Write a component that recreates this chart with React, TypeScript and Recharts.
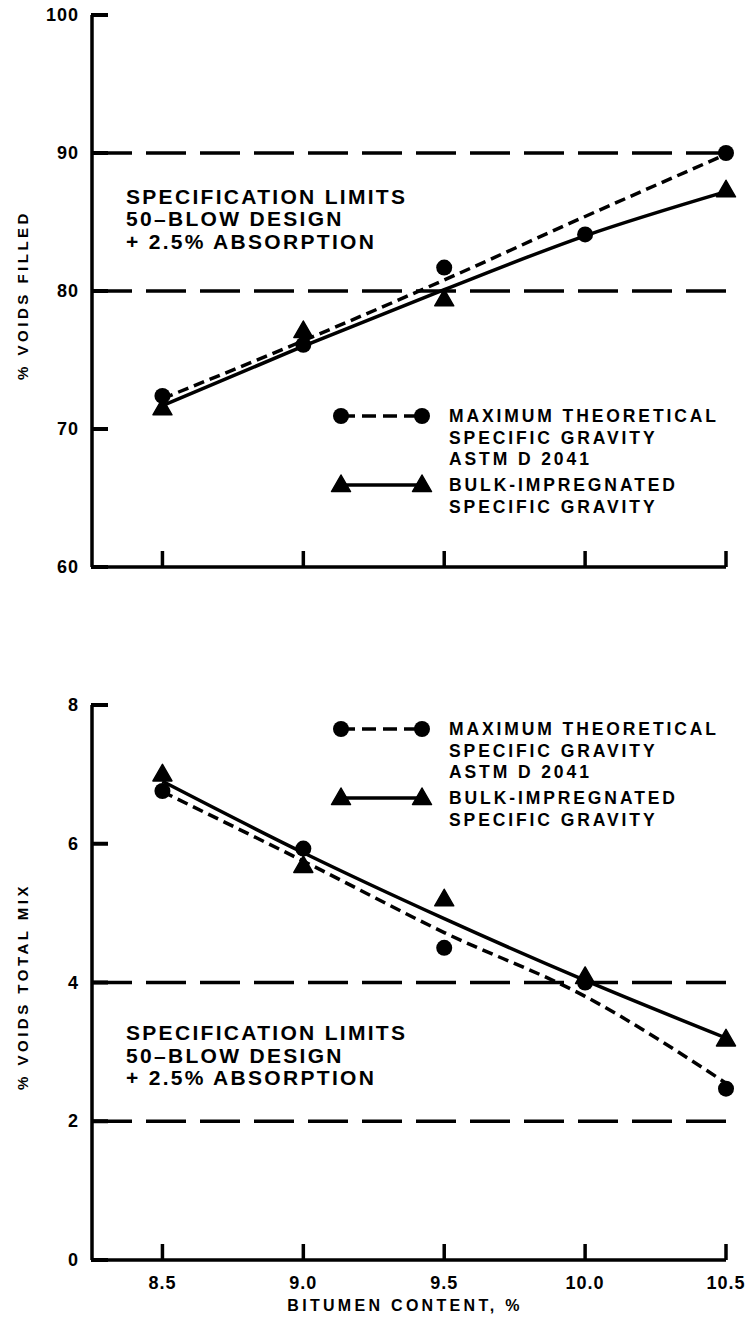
import React from "react";
import {
  ComposedChart,
  Line,
  Scatter,
  XAxis,
  YAxis,
  ReferenceLine,
  Label,
  Legend,
} from "recharts";

// bitumen content, %
const bitumen = [8.5, 9.0, 9.5, 10.0, 10.5];
const xTicks = [8.5, 9.0, 9.5, 10.0, 10.5];

// % voids filled (measured points + drawn trend)
const filledTheoretical = [72.4, 76.1, 81.7, 84.1, 90.0];
const filledBulk = [71.5, 77.1, 79.4, null, 87.3];
const filledTheoreticalFit = [72.2, 76.4, 80.8, 85.4, 89.9];
const filledBulkFit = [71.7, 76.0, 80.1, 84.0, 87.2];
const filledTicks = [60, 70, 80, 90, 100];
const filledLimits = [80, 90];

// % voids total mix
const mixTheoretical = [6.76, 5.93, 4.5, 4.0, 2.47];
const mixBulk = [7.0, 5.68, 5.2, 4.08, 3.18];
const mixTheoreticalFit = [6.75, 5.75, 4.72, 3.8, 2.55];
const mixBulkFit = [6.9, 5.87, 4.92, 4.03, 3.2];
const mixTicks = [0, 2, 4, 6, 8];
const mixLimits = [2, 4];

const theoreticalName = ["MAXIMUM THEORETICAL", "SPECIFIC GRAVITY", "ASTM D 2041"];
const bulkName = ["BULK-IMPREGNATED", "SPECIFIC GRAVITY"];
const specNote = ["SPECIFICATION LIMITS", "50\u2013BLOW DESIGN", "+ 2.5% ABSORPTION"];

const FONT = "'Liberation Sans', Arial, Helvetica, sans-serif";
const INK = "#000";
const W = 748;
const Y_GAP = 13; // space between y labels and the axis

type Pt = { x: number; y: number };
const toPoints = (ys: (number | null)[]): Pt[] =>
  bitumen.flatMap((x, i) => (ys[i] == null ? [] : [{ x, y: ys[i] as number }]));

const Dot = (props: any) => <circle cx={props.cx} cy={props.cy} r={8} fill={INK} />;

const Tri = (props: any) => {
  const { cx, cy } = props;
  return (
    <polygon
      points={`${cx},${cy - 10} ${cx + 9.5},${cy + 6.5} ${cx - 9.5},${cy + 6.5}`}
      fill={INK}
      stroke={INK}
      strokeWidth={1.5}
      strokeLinejoin="round"
    />
  );
};

// ticks point into the plot, labels sit outside
const XTick = (props: any) => {
  const { x, y, payload, showLabel } = props;
  return (
    <g>
      <line x1={x} x2={x} y1={y} y2={y - 16} stroke={INK} strokeWidth={3.5} />
      {showLabel && (
        <text
          x={x}
          y={y + 23}
          textAnchor="middle"
          dominantBaseline="central"
          fontFamily={FONT}
          fontWeight="bold"
          fontSize={18}
          letterSpacing={1}
          fill={INK}
        >
          {Number(payload.value).toFixed(1)}
        </text>
      )}
    </g>
  );
};

const YTick = (props: any) => {
  const { x, y, payload } = props;
  const axisX = Number(x) + Y_GAP;
  const cy = Number(y);
  return (
    <g>
      <rect x={axisX - 1} y={cy - 2} width={17} height={4} fill={INK} />
      <text
        x={x}
        y={y}
        textAnchor="end"
        dominantBaseline="central"
        fontFamily={FONT}
        fontWeight="bold"
        fontSize={18}
        letterSpacing={1}
        fill={INK}
      >
        {payload.value}
      </text>
    </g>
  );
};

const SpecNote = (props: any) => {
  const { viewBox, dy } = props;
  return (
    <g>
      {specNote.map((t, i) => (
        <text
          key={t}
          x={viewBox.x + 34}
          y={viewBox.y + dy + i * 22.5}
          dominantBaseline="central"
          fontFamily={FONT}
          fontWeight="bold"
          fontSize={21}
          letterSpacing={2.3}
          fill={INK}
        >
          {t}
        </text>
      ))}
    </g>
  );
};

const YTitle = (props: any) => {
  const { viewBox, text } = props;
  const x = viewBox.x + 22;
  const y = viewBox.y + viewBox.height / 2 + 4;
  return (
    <text
      x={x}
      y={y}
      transform={`rotate(-90, ${x}, ${y})`}
      textAnchor="middle"
      dominantBaseline="central"
      fontFamily={FONT}
      fontWeight="bold"
      fontSize={15}
      letterSpacing={3.5}
      fill={INK}
    >
      {text}
    </text>
  );
};

const XTitle = (props: any) => {
  const { viewBox } = props;
  return (
    <text
      x={viewBox.x + viewBox.width / 2 - 4}
      y={viewBox.y + 45}
      textAnchor="middle"
      dominantBaseline="central"
      fontFamily={FONT}
      fontWeight="bold"
      fontSize={16}
      letterSpacing={3.3}
      fill={INK}
    >
      BITUMEN CONTENT, %
    </text>
  );
};

const KeyText = ({ lines, y }: { lines: string[]; y: number }) => (
  <>
    {lines.map((t, i) => (
      <text
        key={t + i}
        x={129}
        y={y + i * 21.5}
        dominantBaseline="central"
        fontFamily={FONT}
        fontWeight="bold"
        fontSize={17.5}
        letterSpacing={2.9}
        fill={INK}
      >
        {t}
      </text>
    ))}
  </>
);

const SeriesKey = () => (
  <svg width={420} height={130} style={{ display: "block" }}>
    <line x1={21} x2={102} y1={21} y2={21} stroke={INK} strokeWidth={3.5} strokeDasharray="14 7" />
    <circle cx={21} cy={21} r={8} fill={INK} />
    <circle cx={102} cy={21} r={8} fill={INK} />
    <KeyText lines={theoreticalName} y={21} />
    <line x1={21} x2={102} y1={90} y2={90} stroke={INK} strokeWidth={3.5} />
    <Tri cx={21} cy={90} />
    <Tri cx={102} cy={90} />
    <KeyText lines={bulkName} y={90} />
  </svg>
);

type PanelProps = {
  top: number;
  height: number;
  marginTop: number;
  xAxisHeight: number;
  yDomain: [number, number];
  yTicks: number[];
  limits: number[];
  theo: (number | null)[];
  bulk: (number | null)[];
  theoFit: number[];
  bulkFit: number[];
  yTitle: string;
  showXLabels: boolean;
  noteDy: number;
  legendTop: number;
};

const Panel = (p: PanelProps) => (
  <div style={{ position: "absolute", left: 0, top: p.top }}>
    <ComposedChart
      width={W}
      height={p.height}
      margin={{ top: p.marginTop, right: 22, bottom: 0, left: 0 }}
    >
      <XAxis
        type="number"
        dataKey="x"
        domain={[8.25, 10.5]}
        ticks={xTicks}
        interval={0}
        height={p.xAxisHeight}
        tickSize={0}
        tickMargin={0}
        tickLine={false}
        axisLine={{ stroke: INK, strokeWidth: 3.5 }}
        tick={<XTick showLabel={p.showXLabels} />}
      >
        {p.showXLabels && <Label content={<XTitle />} />}
      </XAxis>
      <YAxis
        type="number"
        domain={p.yDomain}
        ticks={p.yTicks}
        interval={0}
        width={92}
        tickSize={0}
        tickMargin={Y_GAP}
        tickLine={false}
        axisLine={{ stroke: INK, strokeWidth: 3.5 }}
        tick={<YTick />}
      >
        <Label content={<YTitle text={p.yTitle} />} />
      </YAxis>
      <ReferenceLine y={p.limits[1]} stroke={INK} strokeWidth={3.5} strokeDasharray="40 14">
        <Label content={<SpecNote dy={p.noteDy} />} />
      </ReferenceLine>
      <ReferenceLine y={p.limits[0]} stroke={INK} strokeWidth={3.5} strokeDasharray="40 14" />
      <Line
        data={toPoints(p.bulkFit)}
        dataKey="y"
        type="monotone"
        stroke={INK}
        strokeWidth={3.5}
        dot={false}
        isAnimationActive={false}
      />
      <Line
        data={toPoints(p.theoFit)}
        dataKey="y"
        type="monotone"
        stroke={INK}
        strokeWidth={3.5}
        strokeDasharray="11 6"
        dot={false}
        isAnimationActive={false}
      />
      <Scatter data={toPoints(p.bulk)} dataKey="y" shape={Tri} isAnimationActive={false} />
      <Scatter data={toPoints(p.theo)} dataKey="y" shape={Dot} isAnimationActive={false} />
      <Legend
        content={<SeriesKey />}
        layout="horizontal"
        verticalAlign="middle"
        align="center"
        wrapperStyle={{ left: 320, top: p.legendTop, width: 420 }}
      />
    </ComposedChart>
  </div>
);

export default function App() {
  return (
    <div
      style={{
        position: "absolute",
        left: 0,
        top: 0,
        width: W,
        height: 1322,
        background: "#fff",
      }}
    >
      <Panel
        top={0}
        height={600}
        marginTop={15}
        xAxisHeight={33}
        yDomain={[60, 100]}
        yTicks={filledTicks}
        limits={filledLimits}
        theo={filledTheoretical}
        bulk={filledBulk}
        theoFit={filledTheoreticalFit}
        bulkFit={filledBulkFit}
        yTitle="% VOIDS FILLED"
        showXLabels={false}
        noteDy={43}
        legendTop={395}
      />
      <Panel
        top={660}
        height={662}
        marginTop={45}
        xAxisHeight={62}
        yDomain={[0, 8]}
        yTicks={mixTicks}
        limits={mixLimits}
        theo={mixTheoretical}
        bulk={mixBulk}
        theoFit={mixTheoreticalFit}
        bulkFit={mixBulkFit}
        yTitle="% VOIDS TOTAL MIX"
        showXLabels={true}
        noteDy={50}
        legendTop={48}
      />
    </div>
  );
}
